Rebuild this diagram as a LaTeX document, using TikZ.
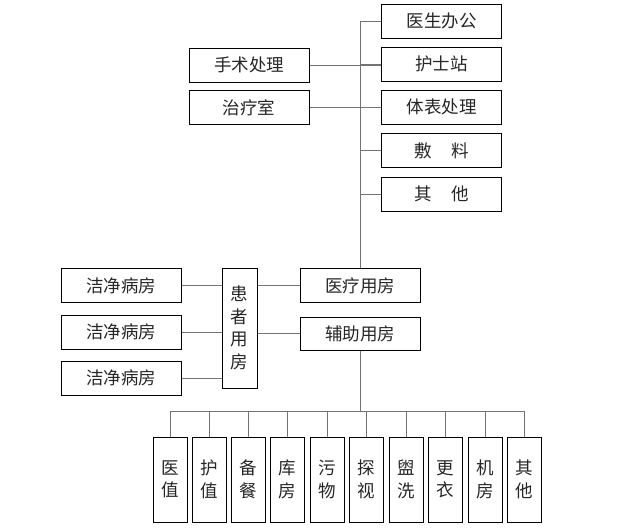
\documentclass[tikz,border=0pt]{standalone}
\usepackage{fontspec}
\setmainfont{Noto Sans CJK SC}
\begin{document}
\begin{tikzpicture}[x=1pt,y=-1pt,
  every node/.style={font=\fontsize{17.5}{22.5}\selectfont, text=black!85},
  hbox/.style={draw=black, line width=1pt, minimum width=120pt, minimum height=34pt, inner sep=0pt},
  vbox/.style={draw=black, line width=1pt, minimum width=34pt, minimum height=85pt, inner sep=0pt, align=center},
  conn/.style={draw=black!55, line width=0.8pt}]
\useasboundingbox (0,0) rectangle (631,528);
% top right column
\node[hbox] (a1) at (441.5,21) {医生办公};
\node[hbox] (a2) at (441.5,64) {护士站};
\node[hbox] (a3) at (441.5,107) {体表处理};
\node[hbox] (a4) at (441.5,150.5) {敷\hspace{1.1em}料};
\node[hbox] (a5) at (441.5,194) {其\hspace{1.1em}他};
% left of top
\node[hbox] (b1) at (249,65) {手术处理};
\node[hbox] (b2) at (249,107.5) {治疗室};
% middle
\node[hbox] (yl) at (360,285.5) {医疗用房};
\node[hbox, minimum height=33pt] (fz) at (360,333.5) {辅助用房};
\node[draw=black, line width=1pt, minimum width=35pt, minimum height=120pt, inner sep=0pt, align=center] (hz) at (239.5,328) {患\\者\\用\\房};
\node[hbox] (c1) at (121,285.5) {洁净病房};
\node[hbox] (c2) at (121,332) {洁净病房};
\node[hbox] (c3) at (121,378) {洁净病房};
% bottom row
\node[vbox] (d1) at (170,479.5) {医\\值};
\node[vbox] (d2) at (209,479.5) {护\\值};
\node[vbox] (d3) at (248.5,479.5) {备\\餐};
\node[vbox] (d4) at (287,479.5) {库\\房};
\node[vbox] (d5) at (327,479.5) {污\\物};
\node[vbox] (d6) at (366,479.5) {探\\视};
\node[vbox] (d7) at (406,479.5) {盥\\洗};
\node[vbox] (d8) at (445,479.5) {更\\衣};
\node[vbox] (d9) at (485,479.5) {机\\房};
\node[vbox] (d10) at (524.5,479.5) {其\\他};
\coordinate (bus) at (360,411);
% connectors
\draw[conn] (yl.north |- a1.west) -- (yl.north);
\foreach \n in {a1,a2,a3,a4,a5} \draw[conn] (yl.north |- \n.west) -- (\n.west);
\draw[conn] (b1.east) -- (b1.east -| a2.west);
\draw[conn] (b2.east) -- (b2.east -| a3.west);
\draw[conn] (c1.east) -- (c1.east -| hz.west);
\draw[conn] (c2.east) -- (c2.east -| hz.west);
\draw[conn] (c3.east) -- (c3.east -| hz.west);
\draw[conn] (hz.east |- yl.west) -- (yl.west);
\draw[conn] (hz.east |- fz.west) -- (fz.west);
\draw[conn] (fz.south) -- (bus);
\draw[conn] (d1.north |- bus) -- (d10.north |- bus);
\foreach \n in {d1,d2,d3,d4,d5,d6,d7,d8,d9,d10} \draw[conn] (\n.north |- bus) -- (\n.north);
\end{tikzpicture}
\end{document}
